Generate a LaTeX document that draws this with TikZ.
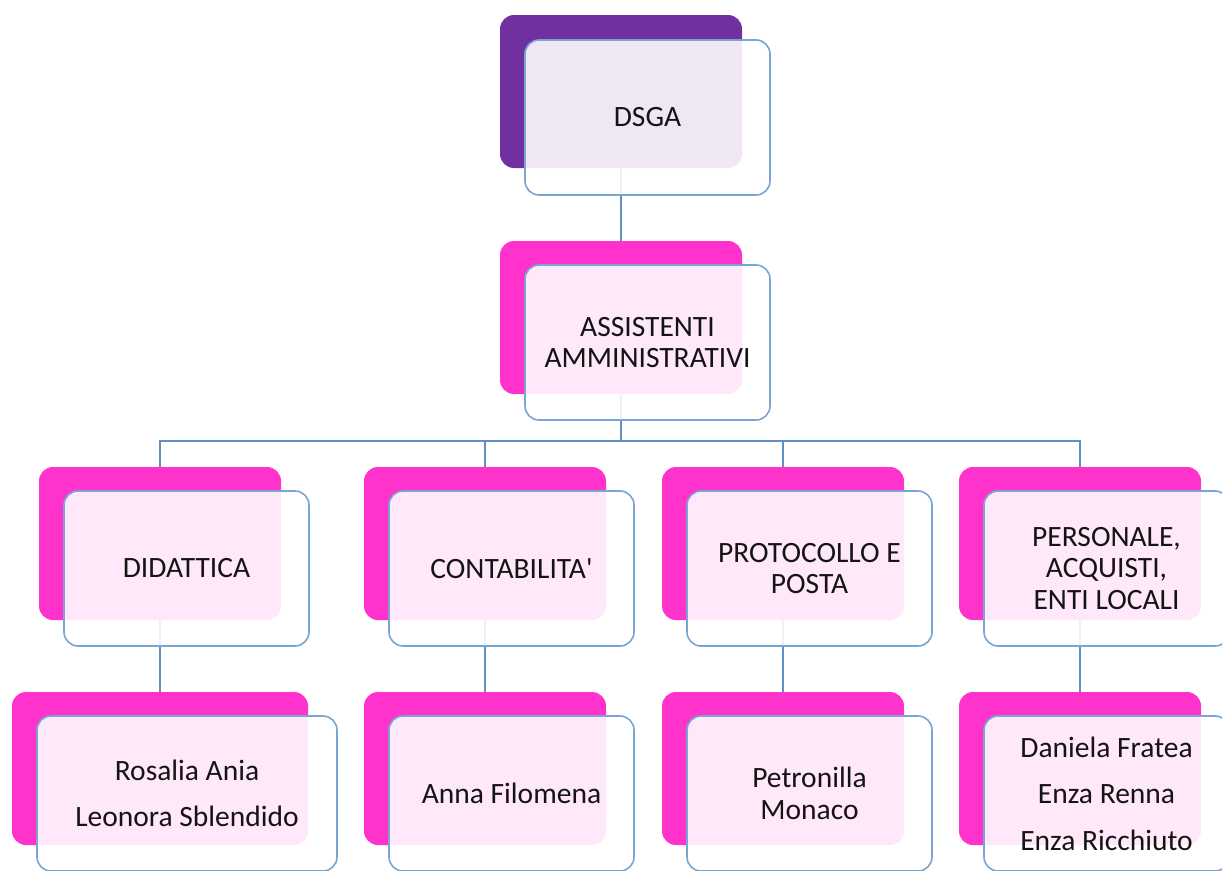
\documentclass[tikz,border=0pt]{standalone}
\usepackage{fontspec}
\setmainfont{Carlito}
\definecolor{dsgaPurple}{RGB}{112,48,160}
\definecolor{staffPink}{RGB}{255,51,204}
\definecolor{frameBlue}{RGB}{120,165,210}
\definecolor{wireBlue}{RGB}{96,144,194}
\definecolor{inkGrey}{RGB}{20,20,20}
\tikzstyle{purpleBack}=[fill=dsgaPurple,rounded corners=14pt,minimum width=242pt,minimum height=153pt,inner sep=0pt]
\tikzstyle{pinkBack}  =[fill=staffPink, rounded corners=14pt,minimum width=242pt,minimum height=153pt,inner sep=0pt]
\tikzstyle{card}      =[draw=frameBlue,line width=1.6pt,fill=white,fill opacity=0.89,text opacity=1,rounded corners=14pt,minimum width=245pt,minimum height=155pt,inner sep=0pt,align=center,text=inkGrey]
\tikzstyle{wire}      =[draw=wireBlue,line width=1.8pt]

\begin{document}
\begin{tikzpicture}[x=1pt,y=1pt,font=\fontsize{29.5}{31.5}\selectfont]
\useasboundingbox (0,0) rectangle (1222,-870);

\node [purpleBack] (bDsga) at (621,-91.5) {};
\node [pinkBack] (bAss) at (621,-317.5) {};
\node [pinkBack] (bDid) at (160,-543.5) {};
\node [pinkBack] (bCon) at (485,-543.5) {};
\node [pinkBack] (bPro) at (783,-543.5) {};
\node [pinkBack] (bPer) at (1080,-543.5) {};
\node [pinkBack,minimum width=296pt] (bRos) at (160,-768.5) {};
\node [pinkBack] (bAnna) at (485,-768.5) {};
\node [pinkBack] (bPetr) at (783,-768.5) {};
\node [pinkBack] (bDan) at (1080,-768.5) {};

\draw [wire] (bDsga.south) -- (bAss.north);
\foreach \kid in {bDid,bCon,bPro,bPer}
	\draw [wire] (bAss.south) -- ++(0,-47) -| (\kid.north);
\draw [wire] (bDid.south) -- (bRos.north);
\draw [wire] (bCon.south) -- (bAnna.north);
\draw [wire] (bPro.south) -- (bPetr.north);
\draw [wire] (bPer.south) -- (bDan.north);

\node [card] (fDsga) at ([shift={(26.5,-26)}]bDsga.center) {DSGA};
\node [card] (fAss) at ([shift={(26.5,-25)}]bAss.center) {ASSISTENTI\\AMMINISTRATIVI};
\node [card] (fDid) at ([shift={(26.5,-25)}]bDid.center) {DIDATTICA};
\node [card] (fCon) at ([shift={(26.5,-25)}]bCon.center) {CONTABILITA\textquotesingle};
\node [card] (fPro) at ([shift={(26.5,-25)}]bPro.center) {PROTOCOLLO E\\POSTA};
\node [card] (fPer) at ([shift={(26.5,-25)}]bPer.center) {PERSONALE,\\ACQUISTI,\\ENTI LOCALI};
\node [card,minimum width=300pt] (fRos) at ([shift={(27,-25)}]bRos.center) {Rosalia Ania\\[15pt]Leonora Sblendido};
\node [card] (fAnna) at ([shift={(26.5,-25)}]bAnna.center) {Anna Filomena};
\node [card] (fPetr) at ([shift={(26.5,-25)}]bPetr.center) {Petronilla\\Monaco};
\node [card] (fDan) at ([shift={(26.5,-25)}]bDan.center) {Daniela Fratea\\[15pt]Enza Renna\\[15pt]Enza Ricchiuto};
\end{tikzpicture}
\end{document}
